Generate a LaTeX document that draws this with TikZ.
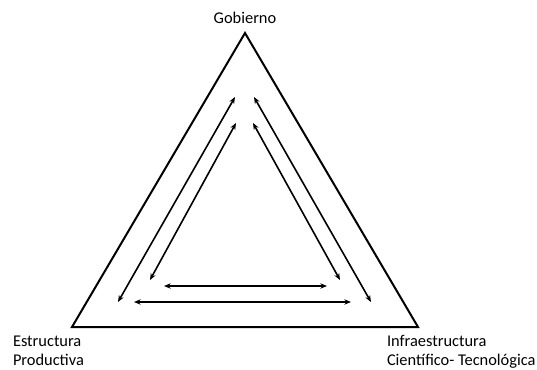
\documentclass[tikz,border=0pt]{standalone}
\usepackage{fontspec}
\setmainfont{Carlito}
\usetikzlibrary{arrows.meta}

\begin{document}
\begin{tikzpicture}[x=0.75pt, y=-0.75pt, line width=1.5pt]
\tikzset{
  flow/.style={line width=1.2pt, {Stealth[length=5pt,width=4pt]}-{Stealth[length=5pt,width=4pt]}},
  lbl/.style={font=\fontsize{12.3}{14.4}\selectfont, inner sep=0pt, align=left}
}
\useasboundingbox (0,0) rectangle (537,369);
% big triangle
\coordinate (G) at (245,33) ;
\coordinate (E) at (72,327) ;
\coordinate (I) at (418,327) ;
\draw[black, line join=miter] (E) -- (I) -- (G) -- cycle ;
% labels
\node[lbl, anchor=base] (gob) at (245,23) {Gobierno} ;
\node[lbl, anchor=north west] (est) at (12,334.5) {Estructura\\Productiva} ;
\node[lbl, anchor=north west] (inf) at (386,334.5) {Infraestructura\\Científico- Tecnológica} ;
%% left side arrows
\coordinate (L1a) at (235,97) ;
\coordinate (L1b) at (118,302) ;
\coordinate (L2a) at (236,123) ;
\coordinate (L2b) at (150,280) ;
\draw[flow] (L1a) -- (L1b) ;
\draw[flow] (L2a) -- (L2b) ;
%% right side arrows
\coordinate (R1a) at (254,97) ;
\coordinate (R1b) at (371,302) ;
\coordinate (R2a) at (253,123) ;
\coordinate (R2b) at (340,280) ;
\draw[flow] (R1a) -- (R1b) ;
\draw[flow] (R2a) -- (R2b) ;
%% bottom arrows
\coordinate (B1a) at (134,302) ;
\coordinate (B1b) at (351,302) ;
\coordinate (B2a) at (164,286) ;
\coordinate (B2b) at (327,286) ;
\draw[flow] (B1a) -- (B1b) ;
\draw[flow] (B2a) -- (B2b) ;
\end{tikzpicture}
\end{document}
